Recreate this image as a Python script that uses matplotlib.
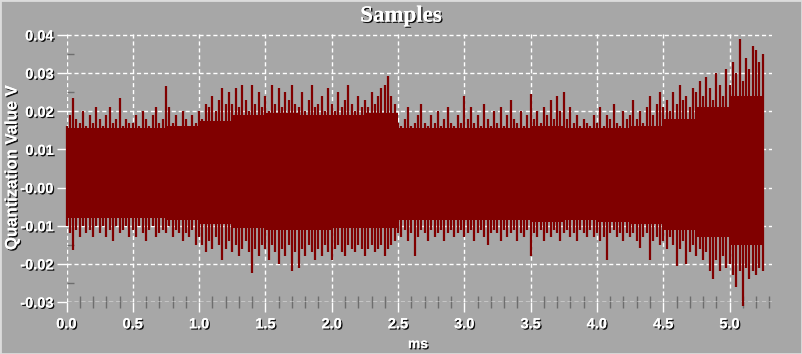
import numpy as np
import matplotlib
matplotlib.use("Agg")
import matplotlib.pyplot as plt
import matplotlib.patheffects as pe
from matplotlib.ticker import MultipleLocator, FixedLocator

# --- data: peaks of the sampled signal, one column every 0.025 ms ---
STEP_MS = 0.025

upper = [
    0.016, 0.019, 0.0235, 0.018, 0.017, 0.020, 0.016, 0.019, 0.017, 0.021,
    0.018, 0.016, 0.019, 0.021, 0.017, 0.018, 0.0235, 0.016, 0.018, 0.017,
    0.017, 0.019, 0.016, 0.020, 0.018, 0.016, 0.019, 0.021, 0.017, 0.018,
    0.0265, 0.021, 0.017, 0.019, 0.016, 0.020, 0.018, 0.016, 0.019, 0.017,
    0.020, 0.018, 0.022, 0.021, 0.024, 0.020, 0.023, 0.026, 0.022, 0.025,
    0.022, 0.026, 0.021, 0.027, 0.023, 0.020, 0.027, 0.022, 0.025, 0.021,
    0.024, 0.020, 0.027, 0.022, 0.026, 0.021, 0.025, 0.023, 0.027, 0.022,
    0.021, 0.025, 0.020, 0.023, 0.027, 0.021, 0.022, 0.024, 0.020, 0.026,
    0.022, 0.020, 0.025, 0.021, 0.023, 0.027, 0.022, 0.020, 0.024, 0.021,
    0.023, 0.021, 0.025, 0.022, 0.024, 0.026, 0.027, 0.0292, 0.024, 0.022,
    0.017, 0.016, 0.018, 0.021, 0.016, 0.017, 0.019, 0.022, 0.017, 0.016,
    0.019, 0.017, 0.020, 0.016, 0.018, 0.021, 0.017, 0.016, 0.019, 0.017,
    0.024, 0.018, 0.021, 0.017, 0.019, 0.016, 0.022, 0.018, 0.016, 0.020,
    0.017, 0.021, 0.016, 0.019, 0.023, 0.018, 0.017, 0.020, 0.016, 0.019,
    0.0245, 0.018, 0.020, 0.017, 0.021, 0.019, 0.023, 0.018, 0.024, 0.020,
    0.025, 0.018, 0.021, 0.017, 0.019, 0.016, 0.018, 0.017, 0.016, 0.019,
    0.017, 0.021, 0.016, 0.019, 0.018, 0.022, 0.017, 0.016, 0.020, 0.018,
    0.019, 0.023, 0.018, 0.020, 0.017, 0.021, 0.024, 0.019, 0.022, 0.025,
    0.021, 0.023, 0.020, 0.025, 0.022, 0.027, 0.023, 0.024, 0.021, 0.026,
    0.025, 0.028, 0.024, 0.029, 0.026, 0.023, 0.030, 0.027, 0.024, 0.031,
    0.027, 0.033, 0.030, 0.039, 0.028, 0.034, 0.031, 0.037, 0.036, 0.033,
    0.035,
]

lower = [
    -0.010, -0.012, -0.0165, -0.011, -0.013, -0.010, -0.012, -0.011, -0.013, -0.010,
    -0.012, -0.010, -0.013, -0.011, -0.014, -0.010, -0.012, -0.011, -0.010, -0.013,
    -0.011, -0.013, -0.010, -0.012, -0.014, -0.011, -0.010, -0.013, -0.012, -0.011,
    -0.012, -0.010, -0.013, -0.011, -0.012, -0.014, -0.012, -0.013, -0.011, -0.015,
    -0.013, -0.015, -0.017, -0.014, -0.016, -0.013, -0.015, -0.019, -0.016, -0.014,
    -0.017, -0.015, -0.018, -0.016, -0.014, -0.017, -0.0224, -0.016, -0.018, -0.015,
    -0.016, -0.019, -0.015, -0.017, -0.020, -0.016, -0.018, -0.015, -0.022, -0.017,
    -0.021, -0.016, -0.018, -0.015, -0.017, -0.019, -0.016, -0.018, -0.015, -0.017,
    -0.019, -0.016, -0.015, -0.017, -0.018, -0.015, -0.016, -0.017, -0.015, -0.016,
    -0.018, -0.016, -0.015, -0.017, -0.016, -0.015, -0.018, -0.016, -0.015, -0.014,
    -0.012, -0.013, -0.011, -0.014, -0.012, -0.018, -0.013, -0.011, -0.012, -0.014,
    -0.011, -0.013, -0.012, -0.011, -0.014, -0.012, -0.011, -0.013, -0.012, -0.011,
    -0.013, -0.012, -0.011, -0.014, -0.012, -0.011, -0.013, -0.015, -0.012, -0.011,
    -0.012, -0.014, -0.011, -0.013, -0.012, -0.011, -0.014, -0.012, -0.013, -0.011,
    -0.018, -0.012, -0.013, -0.011, -0.014, -0.012, -0.013, -0.011, -0.012, -0.014,
    -0.012, -0.011, -0.013, -0.012, -0.014, -0.011, -0.012, -0.013, -0.011, -0.013,
    -0.012, -0.014, -0.013, -0.019, -0.012, -0.011, -0.013, -0.012, -0.014, -0.012,
    -0.013, -0.012, -0.014, -0.0158, -0.013, -0.012, -0.019, -0.014, -0.013, -0.015,
    -0.014, -0.016, -0.013, -0.015, -0.0205, -0.016, -0.014, -0.020, -0.017, -0.015,
    -0.018, -0.016, -0.019, -0.017, -0.022, -0.024, -0.019, -0.022, -0.018, -0.021,
    -0.020, -0.023, -0.026, -0.022, -0.031, -0.021, -0.024, -0.022, -0.023, -0.021,
    -0.022,
]

# solid body of the waveform, read every 0.25 ms
BODY_STEP_MS = 0.25
body_top = [0.0155, 0.0155, 0.0155, 0.016, 0.0175, 0.019, 0.0195, 0.019, 0.019, 0.0195,
            0.0155, 0.0155, 0.0155, 0.0155, 0.016, 0.0155, 0.0155, 0.016, 0.018, 0.021,
            0.024, 0.026]
body_bot = [-0.008, -0.008, -0.008, -0.0085, -0.0095, -0.0105, -0.011, -0.011, -0.0105, -0.0105,
            -0.0085, -0.0085, -0.0085, -0.0085, -0.009, -0.0085, -0.009, -0.0095, -0.011, -0.013,
            -0.015, -0.016]

x_ticks = [0.0, 0.5, 1.0, 1.5, 2.0, 2.5, 3.0, 3.5, 4.0, 4.5, 5.0]
x_labels = ["0.0", "0.5", "1.0", "1.5", "2.0", "2.5", "3.0", "3.5", "4.0", "4.5", "5.0"]
y_ticks = [0.04, 0.03, 0.02, 0.01, 0.0, -0.01, -0.02, -0.03]
y_labels = ["0.04", "0.03", "0.02", "0.01", "-0.00", "-0.01", "-0.02", "-0.03"]

BG = "#a7a7a7"
WAVE = "#800000"
shadow = [pe.withSimplePatchShadow(offset=(1, -1), shadow_rgbFace="black", alpha=0.9), pe.Normal()]

t = np.arange(len(upper)) * STEP_MS
t_body = np.arange(len(body_top)) * BODY_STEP_MS
t_body[-1] = t[-1]

fig = plt.figure(figsize=(8.02, 3.54), dpi=100, facecolor=BG)
ax = fig.add_axes([66.5 / 802, 1 - 302 / 354, (772 - 66.5) / 802, (302 - 33) / 354])
ax.set_facecolor(BG)

ax.fill_between(t_body, body_bot, body_top, step="post", color=WAVE, lw=0, zorder=3)
ax.vlines(t, lower, upper, color=WAVE, lw=1.6, clip_on=False, zorder=3)

ax.set_xlim(0, 5.32)
ax.set_ylim(-0.03, 0.0405)

for s in ax.spines.values():
    s.set_visible(False)

ax.xaxis.set_major_locator(FixedLocator(x_ticks))
ax.set_xticklabels(x_labels)
ax.yaxis.set_major_locator(FixedLocator(y_ticks))
ax.set_yticklabels(y_labels)
ax.xaxis.set_minor_locator(MultipleLocator(0.1))
ax.yaxis.set_minor_locator(MultipleLocator(0.005))

ax.grid(True, which="major", color="white", linestyle=(0, (3, 2)), linewidth=1, zorder=1)
ax.set_axisbelow(True)

ax.tick_params(axis="both", which="major", colors="white", length=7, width=1,
               direction="out", labelcolor="white")
ax.tick_params(axis="x", which="minor", colors="#6e6e6e", length=8, width=1, direction="inout")
ax.tick_params(axis="y", which="minor", colors="#6e6e6e", length=5, width=1, direction="in")
ax.tick_params(axis="x", which="major", pad=4)
ax.tick_params(axis="y", which="major", pad=2)

for lab in ax.get_xticklabels() + ax.get_yticklabels():
    lab.set_fontfamily("Liberation Sans")
    lab.set_fontweight("bold")
    lab.set_fontsize(10.5)
    lab.set_path_effects(shadow)

ax.axhline(-0.03, color="white", linestyle=(0, (3, 2)), linewidth=1, zorder=1)

fig.text(401 / 802, 1 - 16 / 354, "Samples", ha="center", va="center", color="white",
         fontfamily="Liberation Serif", fontweight="bold", fontsize=16.5, path_effects=shadow)
fig.text(12 / 802, 1 - 168 / 354, "Quantization Value V", ha="center", va="center", rotation=90,
         color="white", fontfamily="Liberation Sans", fontweight="bold", fontsize=12, path_effects=shadow)
fig.text(418 / 802, 1 - 344 / 354, "ms", ha="center", va="center", color="white",
         fontfamily="Liberation Sans", fontweight="bold", fontsize=10, path_effects=shadow)

fig.patches.append(plt.Rectangle((0, 0), 1, 1, transform=fig.transFigure, fill=False,
                                 edgecolor="#dcdcdc", linewidth=2))

fig.savefig("out.png", dpi=100, facecolor=BG)
